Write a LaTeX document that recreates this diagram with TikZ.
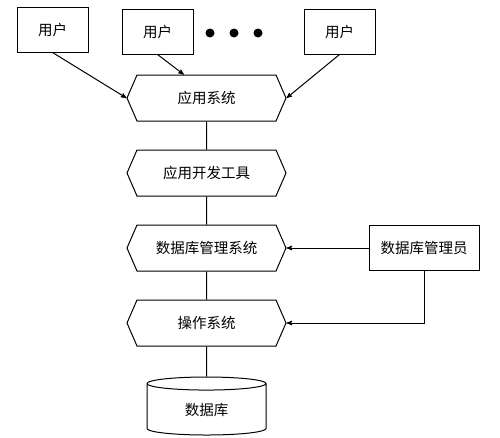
\documentclass[tikz,border=0pt]{standalone}
\usepackage{fontspec}
\newfontfamily\cjk{Noto Sans CJK SC}
\usetikzlibrary{arrows,positioning,shapes.symbols,shapes.geometric}

\begin{document}
\begin{tikzpicture}[x=1pt,y=1pt,>=stealth',line width=1pt,node distance=28pt,
  every node/.style={font=\cjk\fontsize{14.5}{17}\selectfont},
  user box/.style={draw,rectangle,minimum width=71pt,minimum height=45pt,inner sep=0pt},
  layer/.style={draw,signal,signal to=west and east,signal pointer angle=133,
    minimum width=159pt,minimum height=46pt,inner sep=0pt},
  dot/.style={circle,fill=black,inner sep=0pt,minimum size=9pt}]
  \useasboundingbox (0,0) rectangle (500,-437);

  \node[user box] (u1) at (52.5,-29.5) {用户};
  \node[user box] (u2) at (157.5,-31.5) {用户};
  \node[user box] (u3) at (339.5,-31.5) {用户};
  \node[dot] (d1) at (210,-33) {};
  \node[dot] (d2) at (234,-33) {};
  \node[dot] (d3) at (258,-33) {};

  \node[layer] (app) at (206.5,-98) {应用系统};
  \node[layer] (tool) [below=of app] {应用开发工具};
  \node[layer] (dbms) [below=of tool] {数据库管理系统};
  \node[layer] (os) [below=of dbms] {操作系统};
  \node[draw,cylinder,shape border rotate=90,aspect=0.3,minimum width=119pt,
    minimum height=58pt,inner sep=0pt] (db) [below=30pt of os] {数据库};
  \node[draw,rectangle,minimum width=110pt,minimum height=45pt,inner sep=0pt]
    (admin) [right=82pt of dbms] {数据库管理员};

\draw [->] (u1.south) -- (app.west);
\draw [->] (u2.south) -- (app.134);
\draw [->] (u3.south) -- (app.east);
\draw (app) -- (tool);
\draw (tool) -- (dbms);
\draw (dbms) -- (os);
\draw (os) -- (db);
\draw [->] (admin) -- (dbms.east);
\draw [->] (admin.south) |- (os.east);
\end{tikzpicture}
\end{document}
